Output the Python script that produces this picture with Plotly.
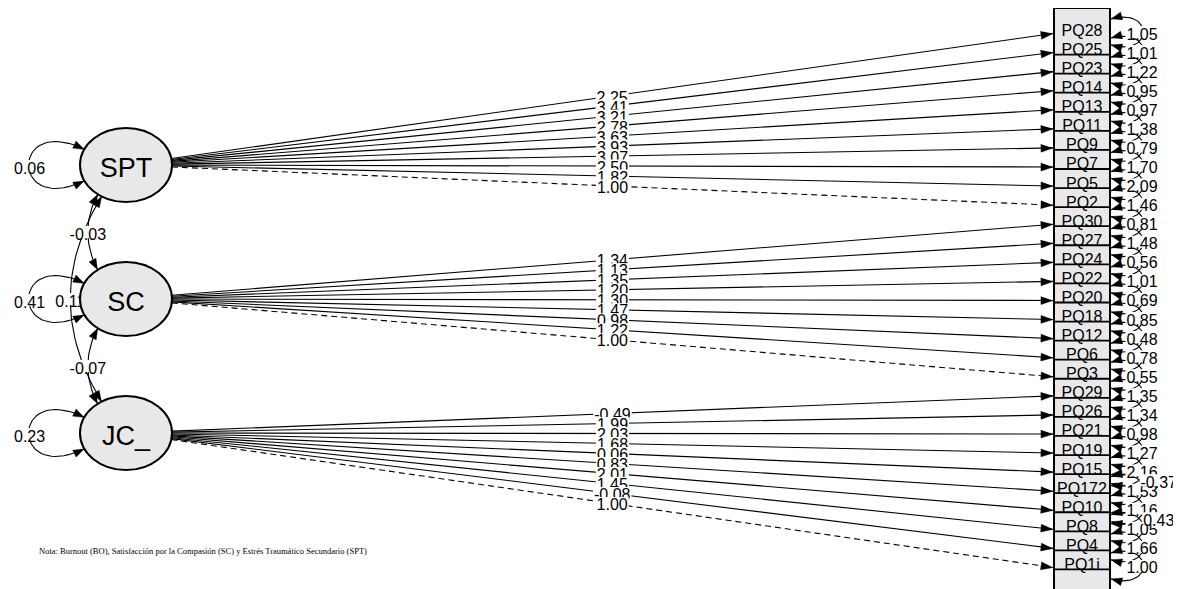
import numpy as np
import plotly.graph_objects as go

# ---------------- data ----------------
latents = ["SPT", "SC", "JC_"]
latent_variances = [0.06, 0.41, 0.23]

cov_from = ["SPT", "SPT", "SC"]
cov_to = ["SC", "JC_", "JC_"]
cov_values = [-0.03, 0.11, -0.07]

spt_items = ["PQ28", "PQ25", "PQ23", "PQ14", "PQ13", "PQ11", "PQ9", "PQ7", "PQ5", "PQ2"]
spt_loadings = [2.25, 3.41, 3.21, 2.78, 3.63, 3.93, 3.07, 2.50, 1.82, 1.00]
spt_residuals = [1.05, 1.01, 1.22, 0.95, 0.97, 1.38, 0.79, 1.70, 2.09, 1.46]

sc_items = ["PQ30", "PQ27", "PQ24", "PQ22", "PQ20", "PQ18", "PQ12", "PQ6", "PQ3"]
sc_loadings = [1.34, 1.13, 1.35, 1.20, 1.30, 1.47, 0.98, 1.22, 1.00]
sc_residuals = [0.81, 1.48, 0.56, 1.01, 0.69, 0.85, 0.48, 0.78, 0.55]

jc_items = ["PQ29", "PQ26", "PQ21", "PQ19", "PQ15", "PQ172", "PQ10", "PQ8", "PQ4", "PQ1i"]
jc_loadings = [-0.49, 1.99, 2.03, 1.68, 0.06, 0.83, 2.01, 1.45, -0.08, 1.00]
jc_residuals = [1.35, 1.34, 0.98, 1.27, 2.16, 1.53, 1.16, 1.05, 1.66, 1.00]

resid_cov_a = ["PQ15", "PQ10"]
resid_cov_b = ["PQ172", "PQ8"]
resid_cov_values = [-0.37, 0.43]

note_text = "Nota: Burnout (BO), Satisfacción por la Compasión (SC) y Estrés Traumático Secundario (SPT)"

# ---------------- layout constants ----------------
W, H = 1181, 589
OFF = 8  # default page margin of the browser body
FONT = "Liberation Sans, Arial, Helvetica, sans-serif"
NUM_SIZE = 16
LAT_CX = 126
LAT_CY = [165, 299, 433]
RX, RY = 46, 37
ITEM_Y0, ITEM_DY = 32, 19.07
BOX_X0, BOX_X1, BOX_TOP, BOX_BOT = 1054, 1110, 8, 610
GRAY = "#e8e8e8"

groups = [(spt_items, spt_loadings, spt_residuals),
          (sc_items, sc_loadings, sc_residuals),
          (jc_items, jc_loadings, jc_residuals)]

items, item_y, item_lat, item_load, item_res, item_fixed = [], [], [], [], [], []
k = 0
for g, (its, lds, rss) in enumerate(groups):
    for j, (it, ld, rs) in enumerate(zip(its, lds, rss)):
        items.append(it)
        item_y.append(ITEM_Y0 + k * ITEM_DY)
        item_lat.append(g)
        item_load.append(ld)
        item_res.append(rs)
        item_fixed.append(j == len(its) - 1)
        k += 1
yof = dict(zip(items, item_y))
lat_index = {n: i for i, n in enumerate(latents)}


def fmt(v):
    return f"{v:.2f}"


def text_w(s, size):
    wd = {".": 0.278, "-": 0.333}
    return sum(wd.get(c, 0.556) for c in s) * size


def bezier(p, n=40):
    t = np.linspace(0, 1, n)[:, None]
    p = np.asarray(p, float)
    if len(p) == 3:
        return (1 - t) ** 2 * p[0] + 2 * (1 - t) * t * p[1] + t ** 2 * p[2]
    return ((1 - t) ** 3 * p[0] + 3 * (1 - t) ** 2 * t * p[1]
            + 3 * (1 - t) * t ** 2 * p[2] + t ** 3 * p[3])


def arrow_head(tip, frm, L=11, Wd=4):
    tip = np.asarray(tip, float)
    frm = np.asarray(frm, float)
    u = tip - frm
    u = u / np.hypot(*u)
    nrm = np.array([-u[1], u[0]])
    b = tip - L * u
    return [tip, b + Wd * nrm, b - Wd * nrm]


def ell_pt(g, ang):
    a = np.radians(ang)
    return np.array([LAT_CX + RX * np.cos(a), LAT_CY[g] + RY * np.sin(a)])


solid_x, solid_y, dash_x, dash_y = [], [], [], []
curve_x, curve_y = [], []
head_x, head_y = [], []
label_shapes = []


def add_poly(pts, xs, ys):
    for p in pts:
        xs.append(float(p[0]))
        ys.append(float(p[1]))
    xs.append(None)
    ys.append(None)


def add_head(tip, frm, L=11, Wd=4):
    add_poly(arrow_head(tip, frm, L, Wd), head_x, head_y)


def add_label(cx, cy, txt, size=NUM_SIZE, h=11):
    w = text_w(txt, size) + 2
    label_shapes.append(dict(
        type="rect", xref="x", yref="y",
        x0=cx - w / 2, x1=cx + w / 2, y0=cy - h / 2, y1=cy + h / 2,
        fillcolor="white", line=dict(width=0), layer="above",
        label=dict(text=txt, font=dict(family=FONT, size=size, color="black"),
                   textposition="middle center")))


# ---- loadings ----
for it, ty, g, ld, fixed in zip(items, item_y, item_lat, item_load, item_fixed):
    tip = np.array([BOX_X0 - 1, ty + 1.5])
    c = np.array([LAT_CX, LAT_CY[g]])
    d = tip - c
    t = 1 / np.sqrt((d[0] / RX) ** 2 + (d[1] / RY) ** 2)
    start = c + t * d
    if fixed:
        add_poly([start, tip], dash_x, dash_y)
    else:
        add_poly([start, tip], solid_x, solid_y)
    add_head(tip, start, L=12, Wd=4)
    mid = (start + tip) / 2
    add_label(mid[0], mid[1] - 1, fmt(ld))

# ---- residual loops ----
RD, RCX, RCD = 13, 1154, 25
for ty, rs in zip(item_y, item_res):
    p = [(BOX_X1 + 1, ty - RD), (RCX, ty - RCD), (RCX, ty + RCD), (BOX_X1 + 1, ty + RD)]
    pts = bezier(p)
    add_poly(pts, curve_x, curve_y)
    add_head(p[0], p[1], L=11, Wd=4)
    add_head(p[3], p[2], L=11, Wd=4)
    add_label(1142, ty, fmt(rs), h=12)

# ---- residual covariances ----
for a, b, v in zip(resid_cov_a, resid_cov_b, resid_cov_values):
    ya, yb = yof[a], yof[b]
    p = [(BOX_X1 + 1, ya + 4), (1176, ya), (1176, yb), (BOX_X1 + 1, yb - 4)]
    add_poly(bezier(p), curve_x, curve_y)
    add_head(p[0], p[1], L=11, Wd=4)
    add_head(p[3], p[2], L=11, Wd=4)
    m = bezier(p, 3)[1]
    add_label(m[0] - 1, m[1], fmt(v), h=12)

# ---- latent variances ----
for g, v in enumerate(latent_variances):
    e1, e2 = ell_pt(g, 205), ell_pt(g, 155)
    cy = LAT_CY[g]
    p = [e1, (10, cy - 52), (10, cy + 52), e2]
    add_poly(bezier(p), curve_x, curve_y)
    add_head(p[0], p[1], L=11, Wd=4)
    add_head(p[3], p[2], L=11, Wd=4)
    m = bezier(p, 3)[1]
    add_label(m[0] + 1, m[1] + 1, fmt(v), h=12)

# ---- latent covariances ----
cov_geom = {("SPT", "SC"): (128, 232, 78), ("SPT", "JC_"): (122, 238, 39),
            ("SC", "JC_"): (128, 232, 78)}
for a, b, v in zip(cov_from, cov_to, cov_values):
    ga, gb = lat_index[a], lat_index[b]
    aa, ab, cxc = cov_geom[(a, b)]
    pa, pb = ell_pt(ga, aa), ell_pt(gb, ab)
    ctrl = (cxc, (pa[1] + pb[1]) / 2)
    p = [pa, ctrl, pb]
    add_poly(bezier(p), curve_x, curve_y)
    add_head(pa, ctrl, L=11, Wd=4)
    add_head(pb, ctrl, L=11, Wd=4)
    m = bezier(p, 3)[1]
    add_label(m[0], m[1], fmt(v), h=12)

# ---------------- figure ----------------
fig = go.Figure()
common = dict(hoverinfo="skip", showlegend=False)
fig.add_trace(go.Scatter(x=solid_x, y=solid_y, mode="lines",
                         line=dict(color="black", width=1.1), **common))
fig.add_trace(go.Scatter(x=dash_x, y=dash_y, mode="lines",
                         line=dict(color="black", width=1.1, dash="6px,4px"), **common))
fig.add_trace(go.Scatter(x=curve_x, y=curve_y, mode="lines",
                         line=dict(color="black", width=1.1), **common))
fig.add_trace(go.Scatter(x=head_x, y=head_y, mode="lines", fill="toself",
                         fillcolor="black", line=dict(color="black", width=0.5), **common))
fig.add_trace(go.Scatter(x=[(BOX_X0 + BOX_X1) / 2] * len(items), y=item_y,
                         mode="text", text=items, textposition="middle center",
                         textfont=dict(family=FONT, size=16, color="black"), **common))

shapes = [dict(type="rect", xref="x", yref="y", x0=BOX_X0, x1=BOX_X1, y0=BOX_TOP, y1=BOX_BOT,
               fillcolor=GRAY, line=dict(width=0), layer="below")]
shapes += label_shapes
for g, name in enumerate(latents):
    shapes.append(dict(type="circle", xref="x", yref="y",
                       x0=LAT_CX - RX, x1=LAT_CX + RX, y0=LAT_CY[g] - RY, y1=LAT_CY[g] + RY,
                       fillcolor=GRAY, line=dict(color="black", width=2), layer="above",
                       label=dict(text=name, font=dict(family=FONT, size=27, color="black"),
                                  textposition="middle center")))
for ty in item_y[1:]:
    shapes.append(dict(type="line", xref="x", yref="y", x0=BOX_X0, x1=BOX_X1,
                       y0=ty + 3.5, y1=ty + 3.5, line=dict(color="black", width=1.8),
                       layer="above"))
shapes.append(dict(type="rect", xref="x", yref="y", x0=BOX_X0, x1=BOX_X1, y0=BOX_TOP, y1=BOX_BOT,
                   fillcolor="rgba(0,0,0,0)", line=dict(color="black", width=2), layer="above"))

fig.update_layout(
    width=W - OFF, height=H - OFF, margin=dict(l=0, r=0, t=0, b=0),
    paper_bgcolor="white", plot_bgcolor="white",
    xaxis=dict(range=[OFF, W], visible=False, fixedrange=True),
    yaxis=dict(range=[H, OFF], visible=False, fixedrange=True),
    shapes=shapes,
    annotations=[dict(x=37, y=551, xref="x", yref="y", text=note_text, showarrow=False,
                      xanchor="left", yanchor="middle",
                      font=dict(family="Liberation Serif, Times New Roman, serif",
                                size=8.5, color="black"))],
)
fig.write_html("out.html")
